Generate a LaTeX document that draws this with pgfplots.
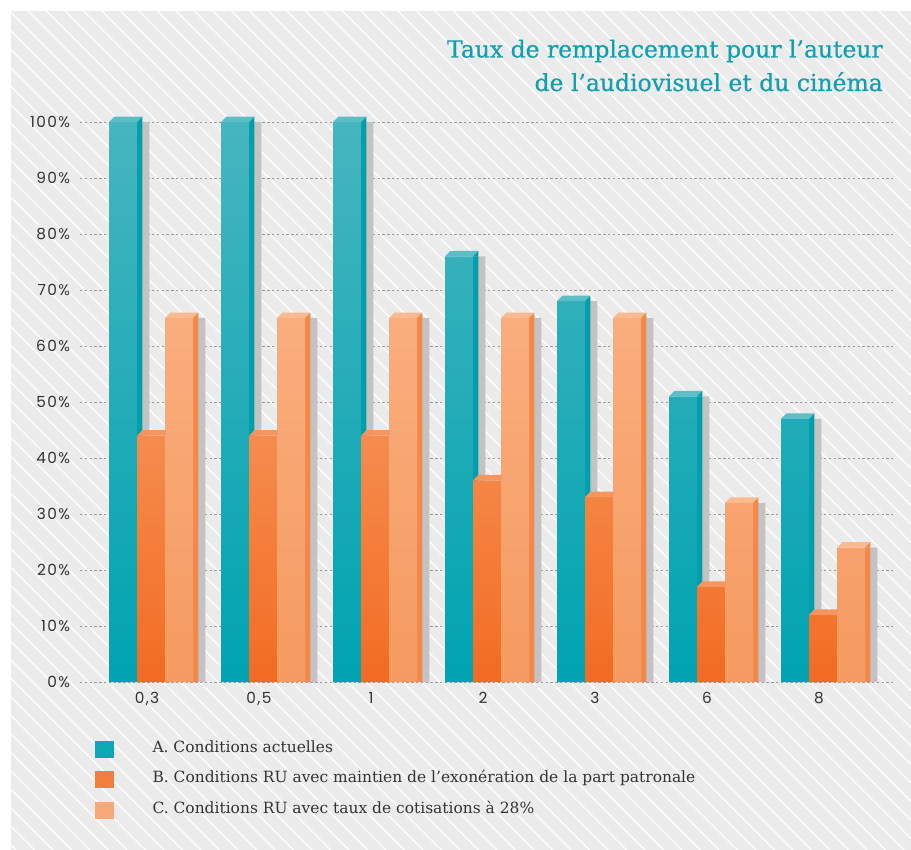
\documentclass[border=0pt]{standalone}
\usepackage{fontspec}
\setmainfont{DejaVu Serif}
\newfontfamily\titlefont[FakeBold=0.6]{DejaVu Serif}
\newfontfamily\tickfont[LetterSpace=9]{Poppins}
\usepackage{pgfplots}
\pgfplotsset{compat=1.18}
\usepackage{pgfplotstable}

\definecolor{bg}{HTML}{EBEBEB}
\definecolor{titlecol}{HTML}{13A0AE}
\definecolor{txt}{HTML}{333333}
\definecolor{gridc}{HTML}{9A9A9A}
\definecolor{shadow}{HTML}{C3C3C3}
\definecolor{Atop}{HTML}{46B5BF}
\definecolor{Abot}{HTML}{00A3B1}
\definecolor{Aside}{HTML}{009FAB}
\definecolor{Acap}{HTML}{5EBEC7}
\definecolor{Btop}{HTML}{F58C4E}
\definecolor{Bbot}{HTML}{F26B22}
\definecolor{Bside}{HTML}{E9762F}
\definecolor{Bcap}{HTML}{F6955E}
\definecolor{Ctop}{HTML}{F9AE7D}
\definecolor{Cbot}{HTML}{F59A62}
\definecolor{Cside}{HTML}{F2894A}
\definecolor{Ccap}{HTML}{FABA90}
\definecolor{legA}{HTML}{0BA9B6}
\definecolor{legB}{HTML}{F37D3A}
\definecolor{legC}{HTML}{F9A878}

% cap marks: name, cap colour, side colour, x offset, right end of cap top
\newcommand\capmark[5]{%
\pgfdeclareplotmark{#1}{%
  \pgftransformxshift{#4}%
  \pgfpathmoveto{\pgfpoint{-10.5pt}{0pt}}%
  \pgfpathlineto{\pgfpoint{-6.4pt}{4.1pt}}%
  \pgfpathlineto{\pgfpoint{#5}{4.1pt}}%
  \pgfpathlineto{\pgfpoint{10.5pt}{0pt}}%
  \pgfpathclose
  \pgfsetfillcolor{#2}\pgfusepath{fill}%
  \pgfpathmoveto{\pgfpoint{10.5pt}{0pt}}%
  \pgfpathlineto{\pgfpoint{#5}{4.1pt}}%
  \pgfpathlineto{\pgfpoint{#5}{0pt}}%
  \pgfpathclose
  \pgfsetfillcolor{#3}\pgfusepath{fill}%
}}
\capmark{capA}{Acap}{Aside}{-21pt}{14.6pt}
\capmark{capB}{Bcap}{Bside}{0pt}{10.5pt}
\capmark{capC}{Ccap}{Cside}{21pt}{14.6pt}

\pgfplotstableread{
k A B C
0 100 44 65
1 100 44 65
2 100 44 65
3 76 36 65
4 68 33 65
5 51 17 32
6 47 12 24
}\data

\begin{document}
\begin{tikzpicture}
% background in px units
\begin{scope}[x=0.75pt,y=0.75pt]
  \fill[white] (0,0) rectangle (911,850);
  \fill[bg] (11,0) rectangle (911,839);
  \begin{scope}
    \clip (11,0) rectangle (911,839);
    \foreach \a in {-860,-841.5,...,920}
      \draw[white,line width=0.85pt] (\a,839) -- (\a+839,0);
  \end{scope}
  \node[anchor=base east,text=titlecol,font=\titlefont\fontsize{17.6}{20}\selectfont,inner sep=0pt] at (883,792.5) {Taux de remplacement pour l’auteur};
  \node[anchor=base east,text=titlecol,font=\titlefont\fontsize{17.6}{20}\selectfont,inner sep=0pt] at (883,759) {de l’audiovisuel et du cinéma};
\end{scope}

\begin{axis}[
  at={(60pt,126pt)}, anchor=south west,
  scale only axis, width=609.75pt, height=420pt,
  xmin=-0.634, xmax=6.625, ymin=0, ymax=100,
  clip=false,
  axis line style={draw=none},
  major tick length=0pt,
  ytick={0,10,...,100},
  yticklabels={0\%,10\%,20\%,30\%,40\%,50\%,60\%,70\%,80\%,90\%,100\%},
  xtick={0,...,6},
  xticklabels={{0,3},{0,5},1,2,3,6,8},
  tick label style={font=\tickfont\fontsize{11.5}{13}\selectfont, text=txt},
  yticklabel style={xshift=-4pt},
  xticklabel style={xshift=-3pt, yshift=-4pt},
  ymajorgrids,
  grid style={gridc, line width=0.6pt, dash pattern=on 1.8pt off 1.8pt},
  legend style={at={(axis description cs:0.0185,-0.104)}, anchor=north west, draw=none, fill=none,
     font=\fontsize{11.6}{13}\selectfont, text=txt, row sep=10.5pt, inner sep=0pt,
     nodes={inner sep=0pt, anchor=west, text height=8.5pt, text depth=3.5pt}},
  legend cell align=left,
]
% ---- series A
\addplot[ybar, forget plot, draw=none, fill=shadow, bar width=9.35pt, bar shift={-21pt+15.175pt}] table[x=k,y=A] {\data};
\addplot[ybar, forget plot, draw=none, fill=Aside, bar width=4.1pt, bar shift={-21pt+12.55pt}] table[x=k,y=A] {\data};
\addplot[ybar, forget plot, draw=none, top color=Atop, bottom color=Abot, bar width=21pt, bar shift=-21pt] table[x=k,y=A] {\data};
\addplot[only marks, forget plot, mark=capA] table[x=k,y=A] {\data};
% ---- series B
\addplot[ybar, forget plot, draw=none, fill=shadow, bar width=9.35pt, bar shift={15.175pt}] table[x=k,y=B] {\data};
\addplot[ybar, forget plot, draw=none, fill=Bside, bar width=4.1pt, bar shift={12.55pt}] table[x=k,y=B] {\data};
\addplot[ybar, forget plot, draw=none, top color=Btop, bottom color=Bbot, bar width=21pt, bar shift=0pt] table[x=k,y=B] {\data};
\addplot[only marks, forget plot, mark=capB] table[x=k,y=B] {\data};
% ---- series C
\addplot[ybar, forget plot, draw=none, fill=shadow, bar width=9.35pt, bar shift={21pt+15.175pt}] table[x=k,y=C] {\data};
\addplot[ybar, forget plot, draw=none, fill=Cside, bar width=4.1pt, bar shift={21pt+12.55pt}] table[x=k,y=C] {\data};
\addplot[ybar, forget plot, draw=none, top color=Ctop, bottom color=Cbot, bar width=21pt, bar shift=21pt] table[x=k,y=C] {\data};
\addplot[only marks, forget plot, mark=capC] table[x=k,y=C] {\data};

\addlegendimage{legend image code/.code={\fill[legA] (0pt,-6pt) rectangle (13.5pt,6pt); \path[draw=none] (0pt,0pt) -- (42.7pt,0pt);}}
\addlegendentry{A. Conditions actuelles}
\addlegendimage{legend image code/.code={\fill[legB] (0pt,-6pt) rectangle (13.5pt,6pt); \path[draw=none] (0pt,0pt) -- (42.7pt,0pt);}}
\addlegendentry{B. Conditions RU avec maintien de l’exonération de la part patronale}
\addlegendimage{legend image code/.code={\fill[legC] (0pt,-6pt) rectangle (13.5pt,6pt); \path[draw=none] (0pt,0pt) -- (42.7pt,0pt);}}
\addlegendentry{C. Conditions RU avec taux de cotisations à 28\%}
\end{axis}
\end{tikzpicture}
\end{document}
